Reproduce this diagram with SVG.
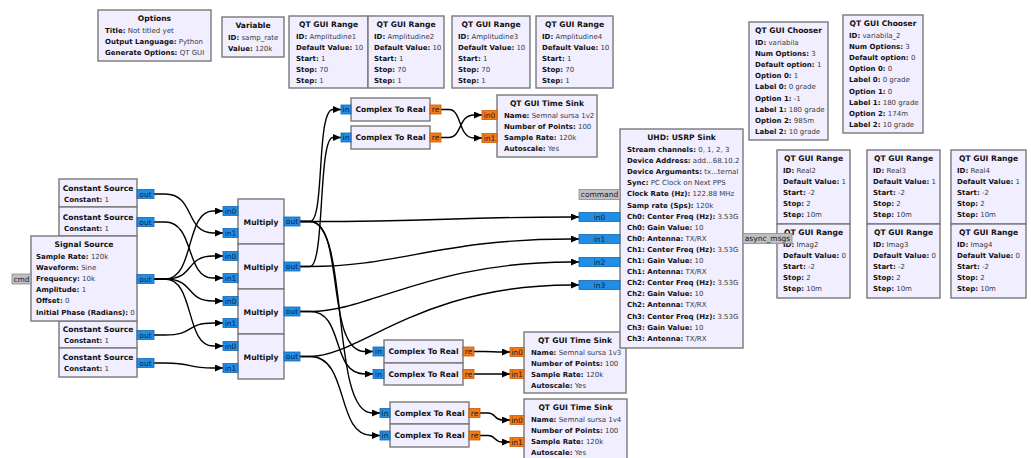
<svg xmlns="http://www.w3.org/2000/svg" width="1031" height="458" viewBox="0 0 1031 458">
<style>
.blk{fill:#F1EEFF;stroke:#787878;stroke-width:1.4}
.ttl{font-family:"DejaVu Sans",sans-serif;font-weight:bold;font-size:7.6px;text-anchor:middle;fill:#111}
.p{font-family:"DejaVu Sans",sans-serif;font-size:7px;fill:#3a3a3a}
.k{font-weight:bold;fill:#111}
.pc{fill:#1E8EE6;stroke:#1565B0;stroke-width:0.8}
.pf{fill:#F47A12;stroke:#C65A05;stroke-width:0.8}
.pm{fill:#BFBFBF;stroke:#8A8A8A;stroke-width:0.8}
.pl{font-family:"DejaVu Sans",sans-serif;font-size:7.5px;text-anchor:middle;fill:#10203a}
.w{fill:none;stroke:#000;stroke-width:1.4;marker-end:url(#ah)}
</style>
<defs>
<marker id="ah" markerWidth="8" markerHeight="7" refX="8" refY="3.5" orient="auto" markerUnits="userSpaceOnUse"><path d="M0,0 L8,3.5 L0,7 z" fill="#000"/></marker>
</defs>
<rect width="1031" height="458" fill="#fff"/>

<g id="connectors">
<path class="w" d="M154,194 H165 C195,194 185,233 213,233 H223"/>
<path class="w" d="M154,222 H165 C195,222 185,278 213,278 H223"/>
<path class="w" d="M154,279 H165 C195,279 185,211 213,211 H223"/>
<path class="w" d="M154,279 H165 C195,279 185,256 213,256 H223"/>
<path class="w" d="M154,279 H165 C195,279 185,301 213,301 H223"/>
<path class="w" d="M154,279 H165 C195,279 185,346 213,346 H223"/>
<path class="w" d="M154,335 H165 C195,335 185,323 213,323 H223"/>
<path class="w" d="M154,363 H165 C195,363 185,368 213,368 H223"/>
<path class="w" d="M300,221.5 H310 C440,221.5 450,217 571,217 H579"/>
<path class="w" d="M300,221.5 H310 C325,221.5 316,109.5 333,109.5 H341"/>
<path class="w" d="M300,266.5 H310 C325,266.5 318,137.5 333,137.5 H341"/>
<path class="w" d="M300,221.5 H310 C345,221.5 325,351.5 365,351.5 H373"/>
<path class="w" d="M300,221.5 H310 C350,221.5 330,413 372,413 H380"/>
<path class="w" d="M300,266.5 H310 C400,266.5 440,239 571,239 H579"/>
<path class="w" d="M300,311.5 H310 C370,311.5 430,262 571,262 H579"/>
<path class="w" d="M300,311.5 H310 C345,311.5 330,374 365,374 H373"/>
<path class="w" d="M300,356.5 H310 C360,356.5 420,285 571,285 H579"/>
<path class="w" d="M300,356.5 H310 C350,356.5 335,435.5 372,435.5 H380"/>
<path class="w" d="M441,109.5 H449 C462,109.5 458,138 474,138 H482"/>
<path class="w" d="M441,137.5 H449 C462,137.5 458,115 474,115 H482"/>
<path class="w" d="M474,351.5 H484 C492,351.5 494,352 502,352 H510"/>
<path class="w" d="M474,374 H510"/>
<path class="w" d="M480,413 H488 C496,413 494,420 502,420 H510"/>
<path class="w" d="M480,435.5 H488 C496,435.5 494,442 502,442 H510"/>
</g>

<g id="options">
<rect class="blk" x="98" y="10" width="113" height="51"/>
<text class="ttl" x="154.5" y="21">Options</text>
<text class="p" x="105" y="33"><tspan class="k">Title:</tspan> Not titled yet</text>
<text class="p" x="105" y="44.1"><tspan class="k">Output Language:</tspan> Python</text>
<text class="p" x="105" y="55.2"><tspan class="k">Generate Options:</tspan> QT GUI</text>
</g>

<g id="variable_samp_rate">
<rect class="blk" x="222" y="17" width="62" height="40"/>
<text class="ttl" x="253" y="28">Variable</text>
<text class="p" x="228" y="40"><tspan class="k">ID:</tspan> samp_rate</text>
<text class="p" x="228" y="51.1"><tspan class="k">Value:</tspan> 120k</text>
</g>

<g id="range_amplitudine1">
<rect class="blk" x="289" y="16" width="79" height="72"/>
<text class="ttl" x="328.5" y="27">QT GUI Range</text>
<text class="p" x="296" y="39"><tspan class="k">ID:</tspan> Amplitudine1</text>
<text class="p" x="296" y="50.1"><tspan class="k">Default Value:</tspan> 10</text>
<text class="p" x="296" y="61.2"><tspan class="k">Start:</tspan> 1</text>
<text class="p" x="296" y="72.3"><tspan class="k">Stop:</tspan> 70</text>
<text class="p" x="296" y="83.4"><tspan class="k">Step:</tspan> 1</text>
</g>
<g id="range_amplitudine2">
<rect class="blk" x="368" y="16" width="76" height="72"/>
<text class="ttl" x="406" y="27">QT GUI Range</text>
<text class="p" x="374" y="39"><tspan class="k">ID:</tspan> Amplitudine2</text>
<text class="p" x="374" y="50.1"><tspan class="k">Default Value:</tspan> 10</text>
<text class="p" x="374" y="61.2"><tspan class="k">Start:</tspan> 1</text>
<text class="p" x="374" y="72.3"><tspan class="k">Stop:</tspan> 70</text>
<text class="p" x="374" y="83.4"><tspan class="k">Step:</tspan> 1</text>
</g>
<g id="range_amplitudine3">
<rect class="blk" x="452" y="16" width="78" height="72"/>
<text class="ttl" x="491" y="27">QT GUI Range</text>
<text class="p" x="458" y="39"><tspan class="k">ID:</tspan> Amplitudine3</text>
<text class="p" x="458" y="50.1"><tspan class="k">Default Value:</tspan> 10</text>
<text class="p" x="458" y="61.2"><tspan class="k">Start:</tspan> 1</text>
<text class="p" x="458" y="72.3"><tspan class="k">Stop:</tspan> 70</text>
<text class="p" x="458" y="83.4"><tspan class="k">Step:</tspan> 1</text>
</g>
<g id="range_amplitudine4">
<rect class="blk" x="536" y="16" width="77" height="72"/>
<text class="ttl" x="574.5" y="27">QT GUI Range</text>
<text class="p" x="542" y="39"><tspan class="k">ID:</tspan> Amplitudine4</text>
<text class="p" x="542" y="50.1"><tspan class="k">Default Value:</tspan> 10</text>
<text class="p" x="542" y="61.2"><tspan class="k">Start:</tspan> 1</text>
<text class="p" x="542" y="72.3"><tspan class="k">Stop:</tspan> 70</text>
<text class="p" x="542" y="83.4"><tspan class="k">Step:</tspan> 1</text>
</g>

<g id="chooser_variabila">
<rect class="blk" x="749" y="22" width="79" height="118"/>
<text class="ttl" x="788.5" y="33">QT GUI Chooser</text>
<text class="p" x="755" y="45"><tspan class="k">ID:</tspan> variabila</text>
<text class="p" x="755" y="56.1"><tspan class="k">Num Options:</tspan> 3</text>
<text class="p" x="755" y="67.2"><tspan class="k">Default option:</tspan> 1</text>
<text class="p" x="755" y="78.3"><tspan class="k">Option 0:</tspan> 1</text>
<text class="p" x="755" y="89.4"><tspan class="k">Label 0:</tspan> 0 grade</text>
<text class="p" x="755" y="100.5"><tspan class="k">Option 1:</tspan> -1</text>
<text class="p" x="755" y="111.6"><tspan class="k">Label 1:</tspan> 180 grade</text>
<text class="p" x="755" y="122.7"><tspan class="k">Option 2:</tspan> 985m</text>
<text class="p" x="755" y="133.8"><tspan class="k">Label 2:</tspan> 10 grade</text>
</g>
<g id="chooser_variabila_2">
<rect class="blk" x="843" y="15" width="80" height="118"/>
<text class="ttl" x="883" y="26">QT GUI Chooser</text>
<text class="p" x="849" y="38"><tspan class="k">ID:</tspan> variabila_2</text>
<text class="p" x="849" y="49.1"><tspan class="k">Num Options:</tspan> 3</text>
<text class="p" x="849" y="60.2"><tspan class="k">Default option:</tspan> 0</text>
<text class="p" x="849" y="71.3"><tspan class="k">Option 0:</tspan> 0</text>
<text class="p" x="849" y="82.4"><tspan class="k">Label 0:</tspan> 0 grade</text>
<text class="p" x="849" y="93.5"><tspan class="k">Option 1:</tspan> 0</text>
<text class="p" x="849" y="104.6"><tspan class="k">Label 1:</tspan> 180 grade</text>
<text class="p" x="849" y="115.7"><tspan class="k">Option 2:</tspan> 174m</text>
<text class="p" x="849" y="126.8"><tspan class="k">Label 2:</tspan> 10 grade</text>
</g>

<g id="range_real2">
<rect class="blk" x="777" y="150" width="73" height="74"/>
<text class="ttl" x="813.5" y="161">QT GUI Range</text>
<text class="p" x="783" y="173"><tspan class="k">ID:</tspan> Real2</text>
<text class="p" x="783" y="184.1"><tspan class="k">Default Value:</tspan> 1</text>
<text class="p" x="783" y="195.2"><tspan class="k">Start:</tspan> -2</text>
<text class="p" x="783" y="206.3"><tspan class="k">Stop:</tspan> 2</text>
<text class="p" x="783" y="217.4"><tspan class="k">Step:</tspan> 10m</text>
</g>
<g id="range_imag2">
<rect class="blk" x="777" y="224" width="73" height="74"/>
<text class="ttl" x="813.5" y="235">QT GUI Range</text>
<text class="p" x="783" y="247"><tspan class="k">ID:</tspan> Imag2</text>
<text class="p" x="783" y="258.1"><tspan class="k">Default Value:</tspan> 0</text>
<text class="p" x="783" y="269.2"><tspan class="k">Start:</tspan> -2</text>
<text class="p" x="783" y="280.3"><tspan class="k">Stop:</tspan> 2</text>
<text class="p" x="783" y="291.4"><tspan class="k">Step:</tspan> 10m</text>
</g>
<g id="range_real3">
<rect class="blk" x="867" y="150" width="73" height="74"/>
<text class="ttl" x="903.5" y="161">QT GUI Range</text>
<text class="p" x="873" y="173"><tspan class="k">ID:</tspan> Real3</text>
<text class="p" x="873" y="184.1"><tspan class="k">Default Value:</tspan> 1</text>
<text class="p" x="873" y="195.2"><tspan class="k">Start:</tspan> -2</text>
<text class="p" x="873" y="206.3"><tspan class="k">Stop:</tspan> 2</text>
<text class="p" x="873" y="217.4"><tspan class="k">Step:</tspan> 10m</text>
</g>
<g id="range_imag3">
<rect class="blk" x="867" y="224" width="73" height="74"/>
<text class="ttl" x="903.5" y="235">QT GUI Range</text>
<text class="p" x="873" y="247"><tspan class="k">ID:</tspan> Imag3</text>
<text class="p" x="873" y="258.1"><tspan class="k">Default Value:</tspan> 0</text>
<text class="p" x="873" y="269.2"><tspan class="k">Start:</tspan> -2</text>
<text class="p" x="873" y="280.3"><tspan class="k">Stop:</tspan> 2</text>
<text class="p" x="873" y="291.4"><tspan class="k">Step:</tspan> 10m</text>
</g>
<g id="range_real4">
<rect class="blk" x="951" y="150" width="75" height="74"/>
<text class="ttl" x="988.5" y="161">QT GUI Range</text>
<text class="p" x="957" y="173"><tspan class="k">ID:</tspan> Real4</text>
<text class="p" x="957" y="184.1"><tspan class="k">Default Value:</tspan> 1</text>
<text class="p" x="957" y="195.2"><tspan class="k">Start:</tspan> -2</text>
<text class="p" x="957" y="206.3"><tspan class="k">Stop:</tspan> 2</text>
<text class="p" x="957" y="217.4"><tspan class="k">Step:</tspan> 10m</text>
</g>
<g id="range_imag4">
<rect class="blk" x="951" y="224" width="75" height="74"/>
<text class="ttl" x="988.5" y="235">QT GUI Range</text>
<text class="p" x="957" y="247"><tspan class="k">ID:</tspan> Imag4</text>
<text class="p" x="957" y="258.1"><tspan class="k">Default Value:</tspan> 0</text>
<text class="p" x="957" y="269.2"><tspan class="k">Start:</tspan> -2</text>
<text class="p" x="957" y="280.3"><tspan class="k">Stop:</tspan> 2</text>
<text class="p" x="957" y="291.4"><tspan class="k">Step:</tspan> 10m</text>
</g>

<g id="const_source_1">
<rect class="blk" x="59" y="179" width="78" height="28"/>
<text class="ttl" x="98" y="190.8">Constant Source</text>
<text class="p" x="64" y="201.8"><tspan class="k">Constant:</tspan> 1</text>
<rect class="pc" x="137" y="189.5" width="17" height="9"/>
<text class="pl" x="145.5" y="196.7">out</text>
</g>
<g id="const_source_2">
<rect class="blk" x="59" y="207" width="78" height="29"/>
<text class="ttl" x="98" y="219.5">Constant Source</text>
<text class="p" x="64" y="230.5"><tspan class="k">Constant:</tspan> 1</text>
<rect class="pc" x="137" y="217.5" width="17" height="9"/>
<text class="pl" x="145.5" y="224.7">out</text>
</g>
<g id="const_source_3">
<rect class="blk" x="59" y="321" width="78" height="27"/>
<text class="ttl" x="98" y="331.5">Constant Source</text>
<text class="p" x="64" y="342.5"><tspan class="k">Constant:</tspan> 1</text>
<rect class="pc" x="137" y="330.5" width="17" height="9"/>
<text class="pl" x="145.5" y="337.7">out</text>
</g>
<g id="const_source_4">
<rect class="blk" x="59" y="348" width="78" height="29"/>
<text class="ttl" x="98" y="360">Constant Source</text>
<text class="p" x="64" y="370.5"><tspan class="k">Constant:</tspan> 1</text>
<rect class="pc" x="137" y="358.5" width="17" height="9"/>
<text class="pl" x="145.5" y="365.7">out</text>
</g>
<g id="signal_source">
<rect class="blk" x="31" y="236" width="106" height="85"/>
<text class="ttl" x="84" y="247">Signal Source</text>
<text class="p" x="36" y="259"><tspan class="k">Sample Rate:</tspan> 120k</text>
<text class="p" x="36" y="270.1"><tspan class="k">Waveform:</tspan> Sine</text>
<text class="p" x="36" y="281.2"><tspan class="k">Frequency:</tspan> 10k</text>
<text class="p" x="36" y="292.3"><tspan class="k">Amplitude:</tspan> 1</text>
<text class="p" x="36" y="303.4"><tspan class="k">Offset:</tspan> 0</text>
<text class="p" x="36" y="314.5"><tspan class="k">Initial Phase (Radians):</tspan> 0</text>
<rect class="pc" x="137" y="274.5" width="17" height="9"/>
<text class="pl" x="145.5" y="281.7">out</text>
<rect class="pm" x="12" y="274" width="19" height="10"/>
<text class="pl" x="21.5" y="281.7" fill="#333">cmd</text>
</g>

<g id="multiply_1">
<rect class="blk" x="238" y="199" width="46" height="45"/>
<text class="ttl" x="261" y="224.5">Multiply</text>
<rect class="pc" x="223" y="206.5" width="15" height="9"/><text class="pl" x="230.5" y="213.7">in0</text>
<rect class="pc" x="223" y="228.5" width="15" height="9"/><text class="pl" x="230.5" y="235.7">in1</text>
<rect class="pc" x="284" y="217" width="16" height="9"/><text class="pl" x="292" y="224.2">out</text>
</g>
<g id="multiply_2">
<rect class="blk" x="238" y="244" width="46" height="45"/>
<text class="ttl" x="261" y="269.5">Multiply</text>
<rect class="pc" x="223" y="251.5" width="15" height="9"/><text class="pl" x="230.5" y="258.7">in0</text>
<rect class="pc" x="223" y="273.5" width="15" height="9"/><text class="pl" x="230.5" y="280.7">in1</text>
<rect class="pc" x="284" y="262" width="16" height="9"/><text class="pl" x="292" y="269.2">out</text>
</g>
<g id="multiply_3">
<rect class="blk" x="238" y="289" width="46" height="45"/>
<text class="ttl" x="261" y="314.5">Multiply</text>
<rect class="pc" x="223" y="296.5" width="15" height="9"/><text class="pl" x="230.5" y="303.7">in0</text>
<rect class="pc" x="223" y="318.5" width="15" height="9"/><text class="pl" x="230.5" y="325.7">in1</text>
<rect class="pc" x="284" y="307" width="16" height="9"/><text class="pl" x="292" y="314.2">out</text>
</g>
<g id="multiply_4">
<rect class="blk" x="238" y="334" width="46" height="45"/>
<text class="ttl" x="261" y="359.5">Multiply</text>
<rect class="pc" x="223" y="341.5" width="15" height="9"/><text class="pl" x="230.5" y="348.7">in0</text>
<rect class="pc" x="223" y="363.5" width="15" height="9"/><text class="pl" x="230.5" y="370.7">in1</text>
<rect class="pc" x="284" y="352" width="16" height="9"/><text class="pl" x="292" y="359.2">out</text>
</g>

<g id="c2r_1">
<rect class="blk" x="351" y="98" width="79" height="23"/>
<text class="ttl" x="390.5" y="112.2">Complex To Real</text>
<rect class="pc" x="341" y="105" width="10" height="9"/><text class="pl" x="346" y="112.2">in</text>
<rect class="pf" x="430" y="105" width="11" height="9"/><text class="pl" x="435.5" y="112.2">re</text>
</g>
<g id="c2r_2">
<rect class="blk" x="351" y="126" width="79" height="23"/>
<text class="ttl" x="390.5" y="140.2">Complex To Real</text>
<rect class="pc" x="341" y="133" width="10" height="9"/><text class="pl" x="346" y="140.2">in</text>
<rect class="pf" x="430" y="133" width="11" height="9"/><text class="pl" x="435.5" y="140.2">re</text>
</g>
<g id="c2r_3">
<rect class="blk" x="384" y="340" width="79" height="23"/>
<text class="ttl" x="423.5" y="354.2">Complex To Real</text>
<rect class="pc" x="373" y="347" width="11" height="9"/><text class="pl" x="378.5" y="354.2">in</text>
<rect class="pf" x="463" y="347" width="11" height="9"/><text class="pl" x="468.5" y="354.2">re</text>
</g>
<g id="c2r_4">
<rect class="blk" x="384" y="363" width="79" height="22"/>
<text class="ttl" x="423.5" y="376.7">Complex To Real</text>
<rect class="pc" x="373" y="369.5" width="11" height="9"/><text class="pl" x="378.5" y="376.7">in</text>
<rect class="pf" x="463" y="369.5" width="11" height="9"/><text class="pl" x="468.5" y="376.7">re</text>
</g>
<g id="c2r_5">
<rect class="blk" x="390" y="402" width="79" height="22"/>
<text class="ttl" x="429.5" y="415.7">Complex To Real</text>
<rect class="pc" x="380" y="408.5" width="10" height="9"/><text class="pl" x="385" y="415.7">in</text>
<rect class="pf" x="469" y="408.5" width="11" height="9"/><text class="pl" x="474.5" y="415.7">re</text>
</g>
<g id="c2r_6">
<rect class="blk" x="390" y="424" width="79" height="23"/>
<text class="ttl" x="429.5" y="438.2">Complex To Real</text>
<rect class="pc" x="380" y="431" width="10" height="9"/><text class="pl" x="385" y="438.2">in</text>
<rect class="pf" x="469" y="431" width="11" height="9"/><text class="pl" x="474.5" y="438.2">re</text>
</g>

<g id="time_sink_1v2">
<rect class="blk" x="497" y="95" width="100" height="62"/>
<text class="ttl" x="547" y="106">QT GUI Time Sink</text>
<text class="p" x="504" y="118"><tspan class="k">Name:</tspan> Semnal sursa 1v2</text>
<text class="p" x="504" y="129.1"><tspan class="k">Number of Points:</tspan> 100</text>
<text class="p" x="504" y="140.2"><tspan class="k">Sample Rate:</tspan> 120k</text>
<text class="p" x="504" y="151.3"><tspan class="k">Autoscale:</tspan> Yes</text>
<rect class="pf" x="482" y="110.5" width="15" height="9"/><text class="pl" x="489.5" y="117.7">in0</text>
<rect class="pf" x="482" y="133.5" width="15" height="9"/><text class="pl" x="489.5" y="140.7">in1</text>
</g>
<g id="time_sink_1v3">
<rect class="blk" x="524" y="332" width="102" height="61"/>
<text class="ttl" x="575" y="343">QT GUI Time Sink</text>
<text class="p" x="531" y="355"><tspan class="k">Name:</tspan> Semnal sursa 1v3</text>
<text class="p" x="531" y="366.1"><tspan class="k">Number of Points:</tspan> 100</text>
<text class="p" x="531" y="377.2"><tspan class="k">Sample Rate:</tspan> 120k</text>
<text class="p" x="531" y="388.3"><tspan class="k">Autoscale:</tspan> Yes</text>
<rect class="pf" x="510" y="347.5" width="14" height="9"/><text class="pl" x="517" y="354.7">in0</text>
<rect class="pf" x="510" y="369.5" width="14" height="9"/><text class="pl" x="517" y="376.7">in1</text>
</g>
<g id="time_sink_1v4">
<rect class="blk" x="524" y="399" width="103" height="62"/>
<text class="ttl" x="575.5" y="410">QT GUI Time Sink</text>
<text class="p" x="531" y="422"><tspan class="k">Name:</tspan> Semnal sursa 1v4</text>
<text class="p" x="531" y="433.1"><tspan class="k">Number of Points:</tspan> 100</text>
<text class="p" x="531" y="444.2"><tspan class="k">Sample Rate:</tspan> 120k</text>
<text class="p" x="531" y="455.3"><tspan class="k">Autoscale:</tspan> Yes</text>
<rect class="pf" x="510" y="415.5" width="14" height="9"/><text class="pl" x="517" y="422.7">in0</text>
<rect class="pf" x="510" y="437.5" width="14" height="9"/><text class="pl" x="517" y="444.7">in1</text>
</g>

<g id="usrp_sink">
<rect class="blk" x="620" y="129" width="123" height="219"/>
<text class="ttl" x="681.5" y="140">UHD: USRP Sink</text>
<text class="p" x="627" y="152"><tspan class="k">Stream channels:</tspan> 0, 1, 2, 3</text>
<text class="p" x="627" y="163.1"><tspan class="k">Device Address:</tspan> add...68.10.2</text>
<text class="p" x="627" y="174.2"><tspan class="k">Device Arguments:</tspan> tx...ternal</text>
<text class="p" x="627" y="185.3"><tspan class="k">Sync:</tspan> PC Clock on Next PPS</text>
<text class="p" x="627" y="196.4"><tspan class="k">Clock Rate (Hz):</tspan> 122.88 MHz</text>
<text class="p" x="627" y="207.5"><tspan class="k">Samp rate (Sps):</tspan> 120k</text>
<text class="p" x="627" y="218.6"><tspan class="k">Ch0: Center Freq (Hz):</tspan> 3.53G</text>
<text class="p" x="627" y="229.7"><tspan class="k">Ch0: Gain Value:</tspan> 10</text>
<text class="p" x="627" y="240.8"><tspan class="k">Ch0: Antenna:</tspan> TX/RX</text>
<text class="p" x="627" y="251.9"><tspan class="k">Ch1: Center Freq (Hz):</tspan> 3.53G</text>
<text class="p" x="627" y="263"><tspan class="k">Ch1: Gain Value:</tspan> 10</text>
<text class="p" x="627" y="274.1"><tspan class="k">Ch1: Antenna:</tspan> TX/RX</text>
<text class="p" x="627" y="285.2"><tspan class="k">Ch2: Center Freq (Hz):</tspan> 3.53G</text>
<text class="p" x="627" y="296.3"><tspan class="k">Ch2: Gain Value:</tspan> 10</text>
<text class="p" x="627" y="307.4"><tspan class="k">Ch2: Antenna:</tspan> TX/RX</text>
<text class="p" x="627" y="318.5"><tspan class="k">Ch3: Center Freq (Hz):</tspan> 3.53G</text>
<text class="p" x="627" y="329.6"><tspan class="k">Ch3: Gain Value:</tspan> 10</text>
<text class="p" x="627" y="340.7"><tspan class="k">Ch3: Antenna:</tspan> TX/RX</text>
<rect class="pm" x="579" y="189.5" width="41" height="10"/><text class="pl" x="599.5" y="197.2" fill="#333">command</text>
<rect class="pc" x="579" y="212.5" width="41" height="9"/><text class="pl" x="599.5" y="219.7">in0</text>
<rect class="pc" x="579" y="234.5" width="41" height="9"/><text class="pl" x="599.5" y="241.7">in1</text>
<rect class="pc" x="579" y="257.5" width="41" height="9"/><text class="pl" x="599.5" y="264.7">in2</text>
<rect class="pc" x="579" y="280.5" width="41" height="9"/><text class="pl" x="599.5" y="287.7">in3</text>
<rect class="pm" x="743" y="233.5" width="49" height="10"/><text class="pl" x="767.5" y="241.2" fill="#333">async_msgs</text>
</g>
</svg>
